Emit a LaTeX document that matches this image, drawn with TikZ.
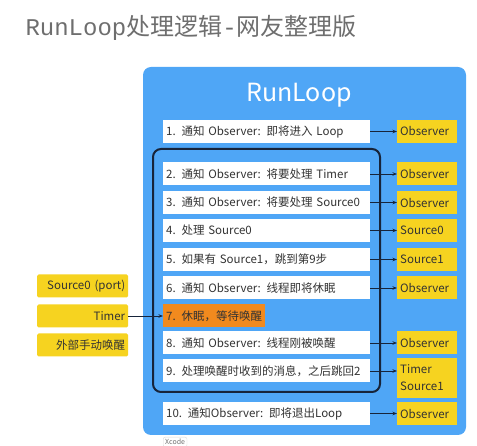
\documentclass[tikz,border=0pt]{standalone}
\usepackage{fontspec}
\setmainfont{Noto Sans CJK SC}
\newfontfamily\titlemono{Liberation Mono}
\usetikzlibrary{arrows.meta}
\definecolor{loopblue}{HTML}{4FA6F6}
\definecolor{obsyellow}{HTML}{F6D320}
\definecolor{sleeporange}{HTML}{F18A1E}
\definecolor{loopnavy}{HTML}{17243A}
\definecolor{titlegray}{HTML}{6E6E6E}

\begin{document}
\begin{tikzpicture}[x=1pt,y=-1pt,
  rowbox/.style={fill=white, minimum height=23pt, text width=201pt, inner xsep=3pt,
    align=left, anchor=west, text=black!80, font=\fontsize{11.5}{13}\selectfont},
  obsbox/.style={fill=obsyellow, minimum height=23pt, text width=54pt, inner xsep=3pt,
    align=left, anchor=west, text=black!80, font=\fontsize{11.5}{17}\selectfont},
  srcbox/.style={fill=obsyellow, rounded corners=1.5pt, minimum height=23pt, text width=85pt,
    inner xsep=3pt, align=right, anchor=west, text=black!80, font=\fontsize{11.5}{13}\selectfont},
  link/.style={-{Stealth[length=4.5pt,width=3.5pt]}, loopnavy, line width=0.8pt}]
\useasboundingbox (0,0) rectangle (477,446);

% title
\node[anchor=west, text=titlegray, font=\fontsize{24}{26}\selectfont] (title) at (22,28)
  {{\titlemono RunLoop}处理逻辑{\titlemono -}网友整理版};

% runloop frame
\fill[loopblue, rounded corners=8pt] (143,67) rectangle (466,435);
\node[text=white, font=\fontsize{25}{28}\selectfont] (rl) at (299,95) {RunLoop};

% steps
\foreach \i/\y/\txt in {1/131.5/{1. 通知 Observer: 即将进入 Loop},
    2/174/{2. 通知 Observer: 将要处理 Timer},
    3/202.5/{3. 通知 Observer: 将要处理 Source0},
    4/230.5/{4. 处理 Source0},
    5/259.5/{5. 如果有 Source1，跳到第9步},
    6/288/{6. 通知 Observer: 线程即将休眠},
    8/343/{8. 通知 Observer: 线程刚被唤醒},
    9/371/{9. 处理唤醒时收到的消息，之后跳回2},
    10/413.5/{10. 通知Observer: 即将退出Loop}}{
  \node[rowbox] (r\i) at (163,\y) {\txt};
}
\node[rowbox, fill=sleeporange, text width=96pt] (r7) at (163,316) {7. 休眠，等待唤醒};

% observers
\foreach \i/\y/\txt in {1/131.5/Observer, 2/174/Observer, 3/202.5/Observer,
    4/230.5/Source0, 5/259.5/Source1, 6/288/Observer, 8/343/Observer, 10/413.5/Observer}{
  \node[obsbox] (o\i) at (397,\y) {\txt};
}
\node[obsbox, minimum height=40pt] (o9) at (397,378) {Timer\\Source1};

\foreach \i in {1,...,6,8,9,10}{
  \draw[link] (r\i.east) -- (r\i.east -| o\i.west);
}

% loop
\draw[loopnavy, line width=2pt, rounded corners=8pt] (153,149) rectangle (380,392);

% wake-up sources
\node[srcbox] (s0) at (37,286) {Source0 (port)};
\node[srcbox] (s1) at (37,316) {Timer};
\node[srcbox] (s2) at (37,345) {外部手动唤醒};
\draw[link] (s1) -- (r7);

\node[draw=black!15, fill=white, rounded corners=2pt, anchor=north west, inner sep=2pt,
  text=black!55, font=\fontsize{7}{8}\selectfont] (tip) at (163,437) {Xcode};
\end{tikzpicture}
\end{document}
